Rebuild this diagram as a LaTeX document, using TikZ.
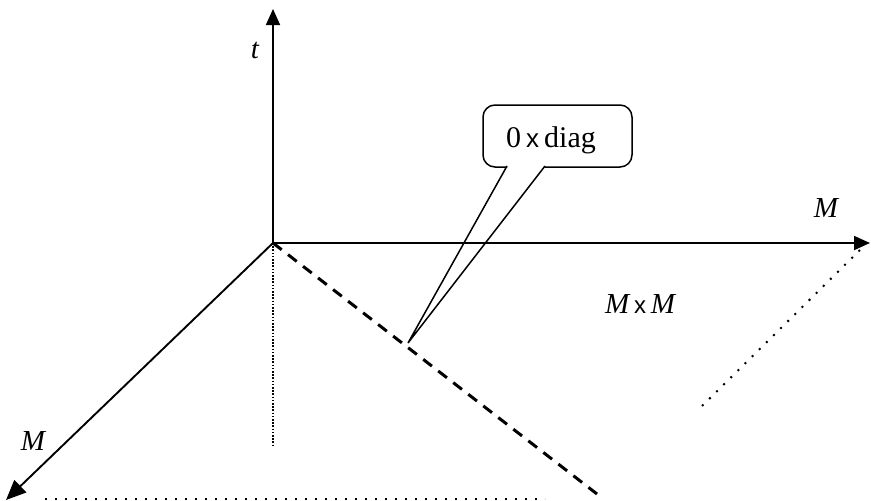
\documentclass[tikz,border=0pt]{standalone}
\usepackage{fontspec}
\setmainfont{Liberation Serif}
\newfontfamily\xsans{Liberation Sans}
\usetikzlibrary{arrows.meta}
\tikzset{
  axis/.style={line width=1.8pt, -{Triangle[length=16pt,width=14pt]}},
  bigaxis/.style={line width=1.9pt, -{Triangle[length=20pt,width=17pt]}},
  dashline/.style={line width=3pt, dash pattern=on 11pt off 8pt},
  dotline/.style={line width=2pt, dash pattern=on 1.6pt off 1.6pt},
  sparsedot/.style={line width=2pt, dash pattern=on 2pt off 8pt},
  lbl/.style={font=\fontsize{29}{31}\selectfont\itshape, inner sep=0pt, anchor=base},
  calltext/.style={font=\fontsize{30}{32}\selectfont, inner sep=0pt, anchor=base},
  callout/.style={line width=1.5pt, rounded corners=12pt}
}
\begin{document}
\begin{tikzpicture}[x=1pt,y=-1pt]
\useasboundingbox (0,0) rectangle (871,501);
\coordinate (O) at (273,243);
\coordinate (T) at (273,9);
\coordinate (R) at (870,243);
\coordinate (L) at (6,500);
\coordinate (Vd) at (273,447);
\coordinate (De) at (597,494);
\coordinate (Dr1) at (860,250);
\coordinate (Dr2) at (700,408);
\coordinate (B1) at (45,499);
\coordinate (B2) at (545,499);
% axes
\draw[axis] (O) -- (T);
\draw[axis] (O) -- (R);
\draw[bigaxis] (O) -- (L);
% dotted and dashed
\draw[dotline] (O) -- (Vd);
\draw[dashline] (O) -- (De);
\draw[sparsedot] (Dr1) -- (Dr2);
\draw[sparsedot, line width=1.4pt] (B1) -- (B2);
% labels
\node[lbl] (tl) at (255,58) {t};
\node[lbl] (mr) at (826,217) {M};
\node[lbl] (ml) at (33,450) {M};
\node[lbl] (mm) at (640,313) {M\,{\upshape\xsans\fontsize{24}{26}\selectfont x}\,M};
% callout
\coordinate (tip) at (408,343);
\draw[callout, fill=white] (507,167) -- (483,167) -- (483,105) -- (632,105) -- (632,167) -- (545,167);
\draw[line width=1.5pt, line join=miter] (507,166) -- (tip) -- (545,166);
\node[calltext] (diag) at (551,147) {0\,{\xsans\fontsize{26}{28}\selectfont x}\,diag};
\end{tikzpicture}
\end{document}
